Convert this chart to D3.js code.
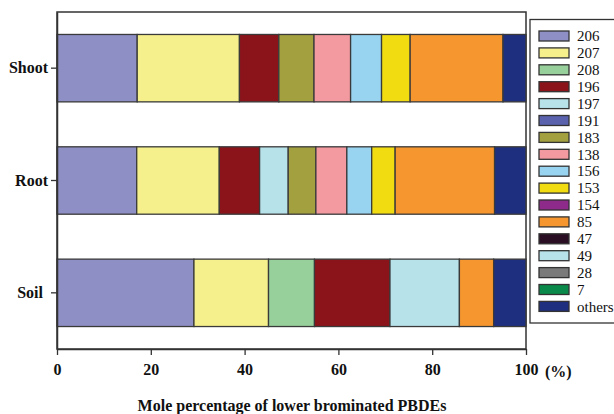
<!DOCTYPE html>
<html lang="en">
<head>
  <meta charset="utf-8" />
  <title>Mole percentage of lower brominated PBDEs</title>
  <script src="https://d3js.org/d3.v7.min.js"></script>
  <style>
    html, body { margin: 0; padding: 0; background: #fff; overflow: hidden; }
    text { font-family: "Liberation Serif", "Times New Roman", serif; fill: #111; }
  </style>
</head>
<body>
<script>
// samples, top to bottom
const samples = ["Shoot", "Root", "Soil"];

// congeners in stacking / legend order
const congeners = ["206", "207", "208", "196", "197", "191", "183", "138",
                   "156", "153", "154", "85", "47", "49", "28", "7", "others"];

const colors = ["#8e8fc4", "#f5f08c", "#98d09c", "#8b141b", "#b8e2ea", "#5a62ad",
                "#a3a03f", "#f39aa0", "#98d3f0", "#f0dc10", "#8e2a8a", "#f5962f",
                "#2a0e24", "#b8e2ea", "#7a7a7a", "#0a8a4a", "#1f2f7f"];

// mole % of each congener (same order as congeners)
const shootValues = [17.1, 21.8, 0, 8.4, 0, 0, 7.5, 7.8, 6.6, 6.1, 0, 19.8, 0, 0, 0, 0, 4.9];
const rootValues  = [17.0, 17.6, 0, 8.6, 6.1, 0, 5.9, 6.6, 5.3, 5.0, 0, 21.2, 0, 0, 0, 0, 6.7];
const soilValues  = [29.2, 15.9, 9.8, 16.1, 14.8, 0, 0, 0, 0, 0, 0, 7.3, 0, 0, 0, 0, 6.9];

const xTicks = [0, 20, 40, 60, 80, 100];

const W = 614, H = 414;
const margin = { top: 12, left: 57, right: 88, bottom: 65 };
const plotW = W - margin.left - margin.right;   // 469
const plotH = H - margin.top - margin.bottom;   // 337

const svg = d3.select("body").append("svg")
  .attr("width", W).attr("height", H);

const g = svg.append("g").attr("transform", `translate(${margin.left},${margin.top})`);

const x = d3.scaleLinear().domain([0, 100]).range([0, plotW]);
const y = d3.scaleBand().domain(samples).range([0, plotH])
  .paddingInner(0.4).paddingOuter(0.2);
const color = d3.scaleOrdinal().domain(congeners).range(colors);

// build rows for the stack
const valueRows = { Shoot: shootValues, Root: rootValues, Soil: soilValues };
const table = samples.map(s => {
  const row = { sample: s };
  congeners.forEach((c, i) => { row[c] = valueRows[s][i]; });
  return row;
});
const series = d3.stack().keys(congeners)(table);

// frame (top + right)
g.append("rect")
  .attr("x", 0).attr("y", 0).attr("width", plotW).attr("height", plotH)
  .attr("fill", "none").attr("stroke", "#333").attr("stroke-width", 1.5);

// bars
g.selectAll("g.series")
  .data(series)
  .enter().append("g")
  .attr("class", "series")
  .attr("fill", d => color(d.key))
  .selectAll("rect")
  .data(d => d.filter(p => p[1] - p[0] > 0))
  .enter().append("rect")
  .attr("x", d => x(d[0]))
  .attr("width", d => x(d[1]) - x(d[0]))
  .attr("y", d => y(d.data.sample))
  .attr("height", y.bandwidth())
  .attr("stroke", "#3a3a3a")
  .attr("stroke-width", 1.3);

// x axis
const xAxis = g.append("g")
  .attr("transform", `translate(0,${plotH})`)
  .call(d3.axisBottom(x).tickValues(xTicks).tickSize(6).tickSizeOuter(0).tickPadding(9));
xAxis.select(".domain").attr("stroke", "#333").attr("stroke-width", 1.5);
xAxis.selectAll(".tick line").attr("stroke", "#333").attr("stroke-width", 1.3);
xAxis.selectAll("text")
  .style("font-family", "Liberation Serif, serif")
  .style("font-size", "16px").style("font-weight", "bold").attr("fill", "#111");

// y axis
const yAxis = g.append("g")
  .call(d3.axisLeft(y).tickSize(6).tickSizeOuter(0).tickPadding(3));
yAxis.select(".domain").attr("stroke", "#333").attr("stroke-width", 1.5);
yAxis.selectAll(".tick line").attr("stroke", "#333").attr("stroke-width", 1.3);
yAxis.selectAll("text")
  .style("font-family", "Liberation Serif, serif")
  .style("font-size", "16px").style("font-weight", "bold").attr("fill", "#111");
yAxis.selectAll(".tick").filter(d => d === "Soil").select("text").attr("x", -14);

// unit label
svg.append("text")
  .attr("x", 545).attr("y", 377)
  .style("font-size", "16px").style("font-weight", "bold")
  .text("(%)");

// axis title
svg.append("text")
  .attr("x", 292).attr("y", 411)
  .attr("text-anchor", "middle")
  .style("font-size", "16px").style("font-weight", "bold")
  .text("Mole percentage of lower brominated PBDEs");

// legend
const legend = svg.append("g");
legend.append("rect")
  .attr("x", 530).attr("y", 19.5).attr("width", 90).attr("height", 303.5)
  .attr("fill", "#fff").attr("stroke", "#333").attr("stroke-width", 1.3);

const item = legend.selectAll("g.item")
  .data(congeners)
  .enter().append("g")
  .attr("class", "item")
  .attr("transform", (d, i) => `translate(539,${36 + i * 16.9})`);
item.append("rect")
  .attr("x", 0).attr("y", -5).attr("width", 30).attr("height", 10)
  .attr("fill", d => color(d)).attr("stroke", "#333").attr("stroke-width", 1.3);
item.append("text")
  .attr("x", 38).attr("dy", "0.35em")
  .style("font-size", "15px")
  .text(d => d);
</script>
</body>
</html>
